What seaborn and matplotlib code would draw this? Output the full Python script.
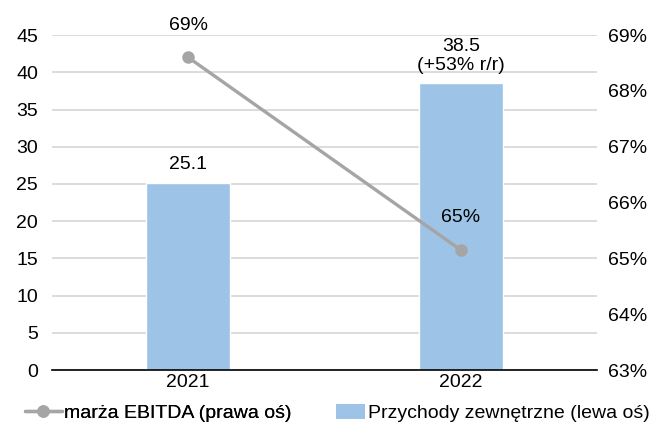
import matplotlib
matplotlib.use("Agg")
import matplotlib.pyplot as plt
from matplotlib.lines import Line2D
from matplotlib.patches import Patch
import seaborn as sns
import pandas as pd

# Data
years = ["2021", "2022"]
revenue = [25.1, 38.5]            # Przychody zewnętrzne (lewa oś)
ebitda_margin = [68.6, 65.15]     # marża EBITDA, % (prawa oś)
revenue_labels = ["25.1", "38.5\n(+53% r/r)"]
margin_labels = ["69%", "65%"]
left_ticks = [0, 5, 10, 15, 20, 25, 30, 35, 40, 45]
right_ticks = [63, 64, 65, 66, 67, 68, 69]

BAR_COLOR = "#9DC3E6"
LINE_COLOR = "#A5A5A5"
GRID_COLOR = "#D9D9D9"
FS = 14

sns.set_theme(style="white")
plt.rcParams["font.family"] = ["Liberation Sans", "DejaVu Sans"]
plt.rcParams["font.size"] = FS
plt.rcParams["text.color"] = "black"

fig = plt.figure(figsize=(6.49, 4.28), dpi=100)
ax = fig.add_axes([0.080, 0.1355, 0.840, 0.7825])

df = pd.DataFrame({"year": years, "revenue": revenue, "margin": ebitda_margin})

sns.barplot(data=df, x="year", y="revenue", color=BAR_COLOR, width=0.31,
            saturation=1, ax=ax, zorder=2)
ax.set_xlim(-0.5, 1.5)
ax.set_ylim(0, 45)
ax.set_yticks(left_ticks)
ax.set_xlabel("")
ax.set_ylabel("")
ax.yaxis.grid(True, color=GRID_COLOR, linewidth=1.3, zorder=0)
ax.set_axisbelow(True)
for side in ["top", "right", "left"]:
    ax.spines[side].set_visible(False)
ax.spines["bottom"].set_color("black")
ax.spines["bottom"].set_linewidth(1.2)
ax.tick_params(axis="both", length=0, labelsize=FS, colors="black")
ax.tick_params(axis="y", pad=10)
ax.tick_params(axis="x", pad=3)

for i, (v, lab) in enumerate(zip(revenue, revenue_labels)):
    ax.annotate(lab, (i, v), xytext=(0, 7), textcoords="offset points",
                ha="center", va="bottom", fontsize=FS, linespacing=1.1)

ax2 = ax.twinx()
df["pos"] = [0, 1]
sns.lineplot(data=df, x="pos", y="margin", color=LINE_COLOR, linewidth=2.4,
             marker="o", markersize=9, markeredgewidth=0, ax=ax2, zorder=3)
ax2.set_ylim(63, 69)
ax2.set_yticks(right_ticks)
ax2.set_yticklabels([f"{t}%" for t in right_ticks])
ax2.set_xlim(-0.5, 1.5)
ax2.set_ylabel("")
ax2.set_xlabel("")
for side in ["top", "right", "left", "bottom"]:
    ax2.spines[side].set_visible(False)
ax2.tick_params(axis="y", length=0, labelsize=FS, colors="black", pad=8)
ax2.grid(False)

for i, (v, lab) in enumerate(zip(ebitda_margin, margin_labels)):
    ax2.annotate(lab, (i, v), xytext=(0, 17), textcoords="offset points",
                 ha="center", va="bottom", fontsize=FS)

line_handle = Line2D([0], [0], color=LINE_COLOR, linewidth=2.4, marker="o",
                     markersize=9, markeredgewidth=0)
bar_handle = Patch(facecolor=BAR_COLOR, edgecolor="none")

leg1 = fig.legend([line_handle], ["marża EBITDA (prawa oś)"], loc="center left",
                  bbox_to_anchor=(0.026, 0.035), frameon=False, fontsize=FS,
                  handlelength=1.9, handletextpad=0.1, borderaxespad=0)
leg2 = fig.legend([bar_handle], ["Przychody zewnętrzne (lewa oś)"], loc="center left",
                  bbox_to_anchor=(0.505, 0.035), frameon=False, fontsize=FS,
                  handlelength=1.5, handleheight=0.85, handletextpad=0.15, borderaxespad=0)
fig.add_artist(leg1)

fig.savefig("out.png", dpi=100)
